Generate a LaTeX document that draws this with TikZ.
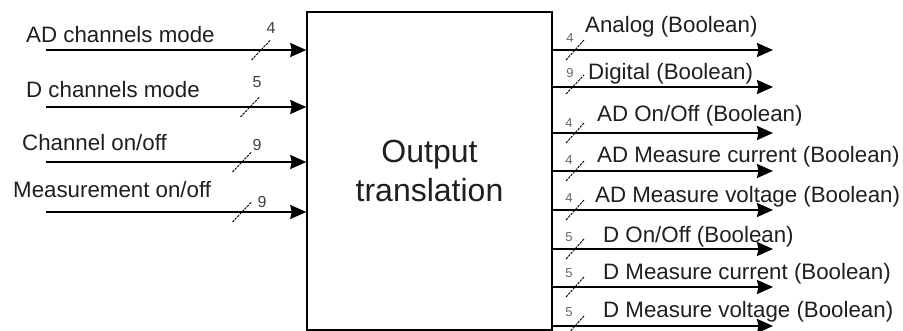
\documentclass[tikz,border=0pt]{standalone}
\usepackage{fontspec}
\setmainfont{Liberation Sans}
\usetikzlibrary{arrows.meta}
\begin{document}
\begin{tikzpicture}[x=1pt,y=-1pt,
  lbl/.style={anchor=base west,inner sep=0pt,text=black!88,font=\fontsize{22.3}{26}\selectfont},
  num/.style={inner sep=0pt,text=black!75,font=\fontsize{16}{18}\selectfont},
  onum/.style={inner sep=0pt,text=black!60,font=\fontsize{13}{15}\selectfont},
  arr/.style={line width=2pt,-{Stealth[length=16pt,width=14pt,inset=1.5pt]}},
  bus/.style={line width=0.9pt,dash pattern=on 2.5pt off 1pt},
  blk/.style={draw,line width=1.5pt,minimum width=245pt,minimum height=318pt,align=center,
    font=\fontsize{32}{39}\selectfont,text=black!88}]
\useasboundingbox (0,0) rectangle (903,331);
\node[blk] (box) at (429.5,171) {Output\\translation};
% inputs
\coordinate (i1) at (46,50);
\coordinate (i2) at (46,107);
\coordinate (i3) at (46,162);
\coordinate (i4) at (46,212);
\draw[arr] (i1) -- (i1 -| box.west);
\draw[arr] (i2) -- (i2 -| box.west);
\draw[arr] (i3) -- (i3 -| box.west);
\draw[arr] (i4) -- (i4 -| box.west);
\node[lbl] (li1) at (26,43) {AD channels mode};
\node[lbl] (li2) at (26,98) {D channels mode};
\node[lbl] (li3) at (22,151) {Channel on/off};
\node[lbl] (li4) at (13,198) {Measurement on/off};
\draw[bus] (251.5,60) -- (270.5,40);
\draw[bus] (240.5,117) -- (259.5,97);
\draw[bus] (232.5,172) -- (251.5,152);
\draw[bus] (232.5,222) -- (251.5,202);
\node[num] (ni1) at (271,28) {4};
\node[num] (ni2) at (257,82) {5};
\node[num] (ni3) at (257,145) {9};
\node[num] (ni4) at (262,202) {9};
% outputs
\coordinate (o1) at (773,50);
\coordinate (o2) at (773,87);
\coordinate (o3) at (773,133);
\coordinate (o4) at (773,171);
\coordinate (o5) at (773,210);
\coordinate (o6) at (773,249);
\coordinate (o7) at (773,287);
\coordinate (o8) at (773,326);
\foreach \o in {o1,o2,o3,o4,o5,o6,o7,o8}
  \draw[arr] (\o -| box.east) -- (\o);
\foreach \y in {50,133,171,210,249,287,326}
  \draw[bus] (566,\y+10) -- (584,\y-10);
\draw[bus] (566,94) -- (584,75);
\node[onum] (no1) at (570,38) {4};
\node[onum] (no2) at (570,73) {9};
\node[onum] (no3) at (569,123) {4};
\node[onum] (no4) at (569,160) {4};
\node[onum] (no5) at (569,198) {4};
\node[onum] (no6) at (569,237) {5};
\node[onum] (no7) at (569,273) {5};
\node[onum] (no8) at (569,312) {5};
\node[lbl] (lo1) at (585,33) {Analog (Boolean)};
\node[lbl] (lo2) at (588,80) {Digital (Boolean)};
\node[lbl] (lo3) at (597,122) {AD On/Off (Boolean)};
\node[lbl] (lo4) at (597,163) {AD Measure current (Boolean)};
\node[lbl] (lo5) at (595,203) {AD Measure voltage (Boolean)};
\node[lbl] (lo6) at (603,243) {D On/Off (Boolean)};
\node[lbl] (lo7) at (603,280) {D Measure current (Boolean)};
\node[lbl] (lo8) at (603,318) {D Measure voltage (Boolean)};
\end{tikzpicture}
\end{document}
